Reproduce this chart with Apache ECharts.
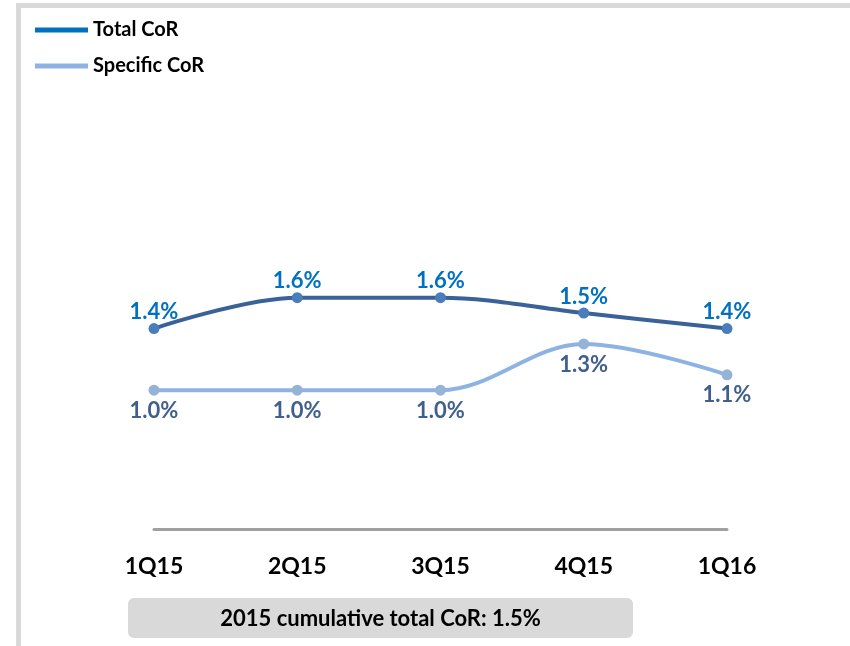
<!DOCTYPE html>
<html>
<head>
<meta charset="utf-8">
<script src="https://cdn.jsdelivr.net/npm/echarts@6/dist/echarts.min.js"></script>
<style>
  html, body { margin: 0; padding: 0; background: #ffffff; }
  #chart { width: 850px; height: 646px; }
</style>
</head>
<body>
<div id="chart"></div>
<script>
// Quarterly cost of risk (%)
const quarters = ['1Q15', '2Q15', '3Q15', '4Q15', '1Q16'];
const totalCoR = [1.4, 1.6, 1.6, 1.5, 1.4];
const specificCoR = [1.0, 1.0, 1.0, 1.3, 1.1];
const cumulativeNote = '2015 cumulative total CoR: 1.5%';

const FONT = 'Lato, "Open Sans", sans-serif';

const chart = echarts.init(document.getElementById('chart'), null, { renderer: 'canvas' });

chart.setOption({
  backgroundColor: '#ffffff',
  animation: false,
  grid: { left: 154, right: 123, top: 236, bottom: 117 },
  legend: {
    orient: 'vertical',
    left: 30,
    top: 14,
    itemGap: 14,
    itemWidth: 53,
    itemHeight: 5,
    icon: 'rect',
    textStyle: { fontFamily: FONT, fontWeight: 'bold', fontSize: 20, lineHeight: 22, color: '#000000' },
    data: [
      { name: 'Total CoR', itemStyle: { color: '#0070c0' } },
      { name: 'Specific CoR', itemStyle: { color: '#8db3e2' } }
    ]
  },
  xAxis: {
    type: 'category',
    data: quarters,
    boundaryGap: false,
    axisLine: { show: true, lineStyle: { color: '#a0a0a0', width: 3 } },
    axisTick: { show: false },
    axisLabel: {
      margin: 26,
      fontFamily: FONT,
      fontWeight: 'bold',
      fontSize: 23,
      color: '#000000'
    },
    splitLine: { show: false }
  },
  yAxis: {
    type: 'value',
    min: 0.1,
    max: 2.0,
    show: false,
    splitLine: { show: false }
  },
  series: [
    {
      name: 'Total CoR',
      type: 'line',
      data: totalCoR,
      smooth: 0.35,
      symbol: 'circle',
      symbolSize: 11,
      lineStyle: { color: '#3b6199', width: 4 },
      itemStyle: { color: '#4a7ebb' },
      label: {
        show: true,
        position: 'top',
        distance: 0,
        fontFamily: FONT,
        fontWeight: 'bold',
        fontSize: 22,
        color: '#0070c0',
        formatter: p => p.value.toFixed(1) + '%'
      },
      z: 3
    },
    {
      name: 'Specific CoR',
      type: 'line',
      data: specificCoR,
      smooth: 0.35,
      symbol: 'circle',
      symbolSize: 11,
      lineStyle: { color: '#8db3e2', width: 4 },
      itemStyle: { color: '#95b3d7' },
      label: {
        show: true,
        position: 'bottom',
        distance: 4,
        fontFamily: FONT,
        fontWeight: 'bold',
        fontSize: 22,
        color: '#3f5f8f',
        formatter: p => p.value.toFixed(1) + '%'
      },
      z: 2
    }
  ],
  graphic: [
    {
      type: 'rect',
      silent: true,
      shape: { x: 18.5, y: 5.5, width: 1000, height: 800 },
      style: { fill: 'none', stroke: '#d9d9d9', lineWidth: 5 }
    },
    {
      type: 'rect',
      silent: true,
      shape: { x: 128, y: 598, width: 505, height: 40, r: 6 },
      style: { fill: '#d9d9d9' }
    },
    {
      type: 'text',
      silent: true,
      x: 380.5,
      y: 619,
      style: {
        text: cumulativeNote,
        fontFamily: FONT,
        fontWeight: 'bold',
        fontSize: 22,
        fill: '#000000',
        align: 'center',
        verticalAlign: 'middle'
      }
    }
  ]
});
</script>
</body>
</html>
